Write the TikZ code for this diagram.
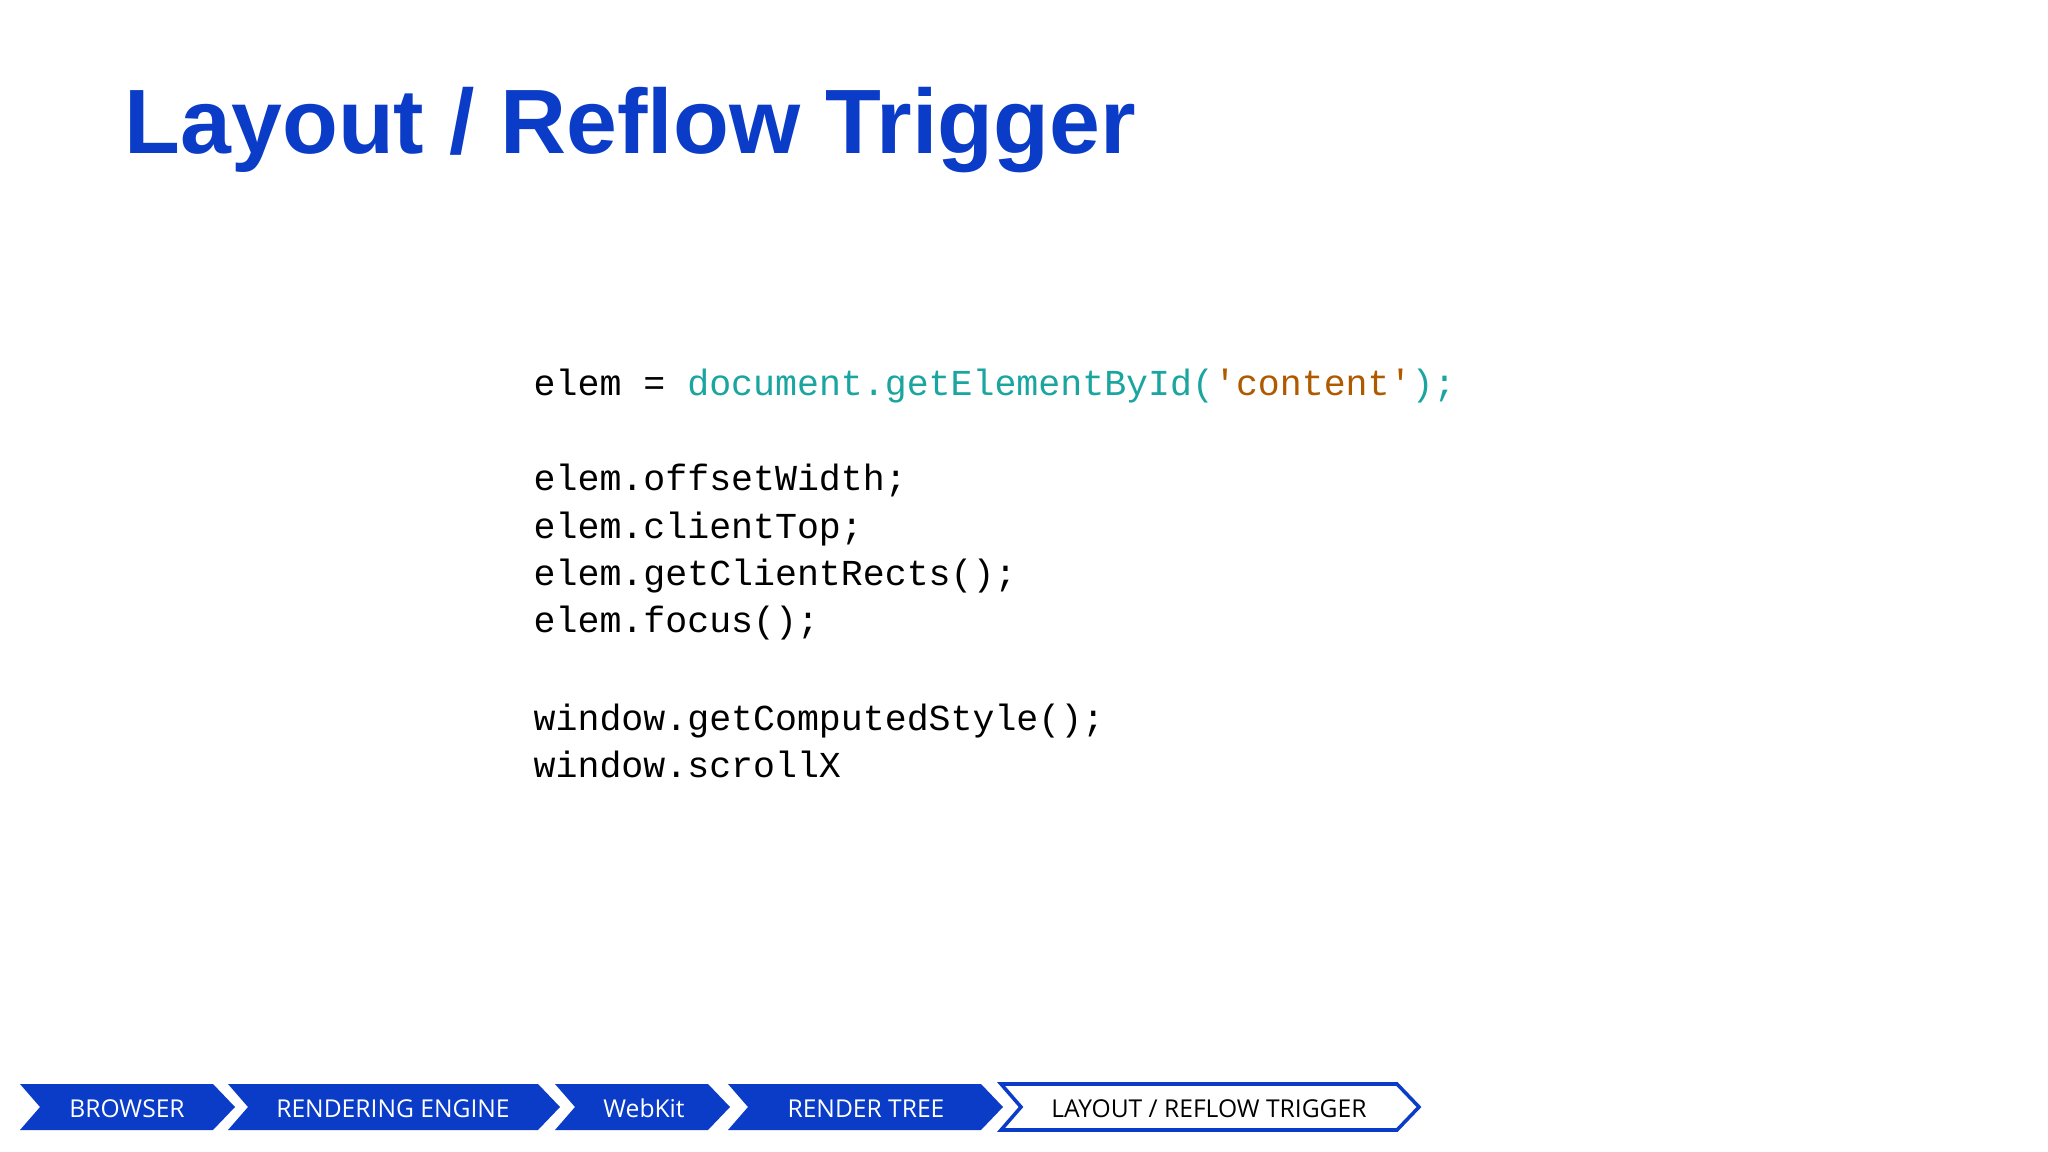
\documentclass[tikz,border=0pt]{standalone}
\usepackage{fontspec}
\setmainfont{Liberation Sans}
\newfontfamily\crumbfont{Open Sans}
\newfontfamily\codefont{Liberation Mono}
\definecolor{titleblue}{HTML}{0A3CC8}
\definecolor{crumbblue}{HTML}{0A3CC8}
\definecolor{teal}{HTML}{1AA5A0}
\definecolor{brownc}{HTML}{B05A00}
\begin{document}
\begin{tikzpicture}[x=0.01cm,y=-0.01cm,
  codeline/.style={anchor=base west,inner sep=0pt,font=\codefont\fontsize{10.4pt}{12pt}\selectfont},
  crumbtext/.style={anchor=base,inner sep=0pt,font=\crumbfont\fontsize{7pt}{8pt}\selectfont},
  crumb/.style={fill=crumbblue,draw=crumbblue}]
\useasboundingbox (0,0) rectangle (2048,1152);
\fill[white] (0,0) rectangle (2048,1152);
\node[anchor=base west,inner sep=0pt,text=titleblue,font=\bfseries\fontsize{26pt}{30pt}\selectfont] (title) at (124,154) {Layout / Reflow Trigger};
\node[codeline] (l1) at (533,396) {elem = \textcolor{teal}{document.getElementById(}\textcolor{brownc}{'content'}\textcolor{teal}{);}};
\node[codeline] (l2) at (533,491) {elem.offsetWidth;};
\node[codeline] (l3) at (533,538) {elem.clientTop;};
\node[codeline] (l4) at (533,586) {elem.getClientRects();};
\node[codeline] (l5) at (533,633) {elem.focus();};
\node[codeline] (l6) at (533,730) {window.getComputedStyle();};
\node[codeline] (l7) at (533,777) {window.scrollX};
% breadcrumb
\def\crumbshape#1#2{(#1,1084) -- (#2-22,1084) -- (#2,1107) -- (#2-22,1130) -- (#1,1130) -- (#1+20,1107) -- cycle}
\fill[crumbblue] \crumbshape{20}{235};
\fill[crumbblue] \crumbshape{228}{560};
\fill[crumbblue] \crumbshape{555}{730};
\fill[crumbblue] \crumbshape{728}{1003};
\draw[crumbblue,line width=1pt,fill=white] \crumbshape{1001}{1419};
\node[crumbtext,text=white] (c1) at (127,1117) {BROWSER};
\node[crumbtext,text=white] (c2) at (393,1117) {RENDERING ENGINE};
\node[crumbtext,text=white] (c3) at (644,1117) {WebKit};
\node[crumbtext,text=white] (c4) at (866,1117) {RENDER TREE};
\node[crumbtext,text=black] (c5) at (1209,1117) {LAYOUT / REFLOW TRIGGER};
\end{tikzpicture}
\end{document}
